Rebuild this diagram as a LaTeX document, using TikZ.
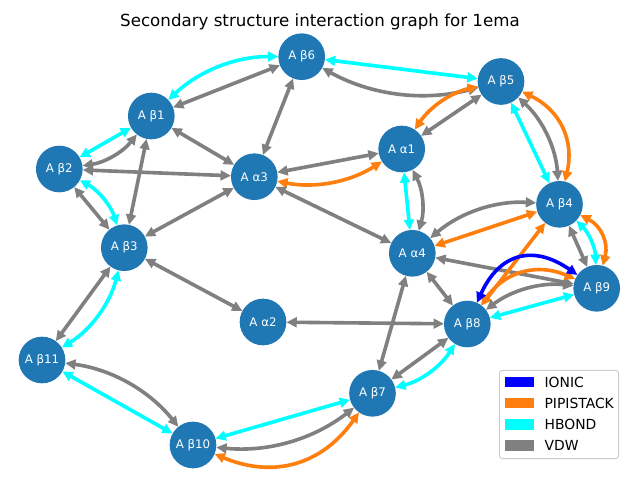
\documentclass[tikz,border=0pt]{standalone}
\usepackage{fontspec}
\setmainfont{DejaVu Sans}
\usetikzlibrary{arrows.meta}
\definecolor{nodeblue}{HTML}{1F77B4}
\definecolor{cPI}{HTML}{FF7F0E}
\definecolor{cHB}{HTML}{00FFFF}
\definecolor{cVDW}{HTML}{808080}
\definecolor{cION}{HTML}{0000FF}
\definecolor{frame}{HTML}{CCCCCC}
\tikzset{
  res/.style={circle, fill=nodeblue, draw=none, minimum size=33.6pt, inner sep=0pt, outer sep=0pt,
    text=white, font=\fontsize{8.5}{10}\selectfont},
  lnk/.style={line width=2.6pt, {Triangle[length=7.5pt,width=7pt]}-{Triangle[length=7.5pt,width=7pt]}},
  vdw/.style={lnk, draw=cVDW},
  hb/.style={lnk, draw=cHB},
  pis/.style={lnk, draw=cPI},
  ion/.style={lnk, draw=cION},
  rA/.style={bend left=21.8, looseness=0.92},
  rB/.style={bend left=38.7, looseness=1.09},
  rC/.style={bend left=50.2, looseness=1.33},
  rAr/.style={bend right=21.8, looseness=0.92},
  rBr/.style={bend right=38.7, looseness=1.09},
  legpatch/.style={minimum width=20.9pt, minimum height=7.6pt, inner sep=0pt, draw=none},
  legtext/.style={anchor=west, inner sep=0pt, font=\fontsize{10}{12}\selectfont},
}
\begin{document}
\begin{tikzpicture}[x=0.72pt, y=-0.72pt]
\useasboundingbox (0,0) rectangle (640,480);
\node[font=\fontsize{12}{14}\selectfont] (title) at (320,22) {Secondary structure interaction graph for 1ema};

\node[res] (b6) at (301.7,56.7) {A β6};
\node[res] (b5) at (501,81.5) {A β5};
\node[res] (b1) at (151.3,116) {A β1};
\node[res] (a1) at (401.7,149) {A α1};
\node[res] (b2) at (59.3,169) {A β2};
\node[res] (a3) at (254.3,176.7) {A α3};
\node[res] (b4) at (559.5,204.3) {A β4};
\node[res] (b3) at (124.3,247.7) {A β3};
\node[res] (a4) at (412.3,253.3) {A α4};
\node[res] (b9) at (596.7,288.3) {A β9};
\node[res] (a2) at (263,322) {A α2};
\node[res] (b8) at (467.3,324) {A β8};
\node[res] (b11) at (42,360) {A β11};
\node[res] (b7) at (372.5,393.3) {A β7};
\node[res] (b10) at (193,445) {A β10};

% beta1 - beta6
\draw[hb, rA] (b1) to (b6);
\draw[vdw] (b1) -- (b6);
% beta6 - beta5
\draw[hb] (b6) -- (b5);
\draw[vdw, rAr] (b6) to (b5);
\draw[vdw] (b6) -- (a3);
% beta5 - alpha1
\draw[pis, rAr] (b5) to (a1);
\draw[vdw] (b5) -- (a1);
% beta5 - beta4
\draw[hb] (b5) -- (b4);
\draw[vdw, rA] (b5) to (b4);
\draw[pis, rB] (b5) to (b4);
% beta1 - beta2
\draw[hb] (b1) -- (b2);
\draw[vdw, rA] (b1) to (b2);
\draw[vdw] (b1) -- (a3);
\draw[vdw] (b1) -- (b3);
\draw[vdw] (b2) -- (a3);
% beta2 - beta3
\draw[vdw] (b2) -- (b3);
\draw[hb, rA] (b2) to (b3);
\draw[vdw] (b3) -- (a3);
% alpha3 - alpha1
\draw[vdw] (a3) -- (a1);
\draw[pis, rAr] (a3) to (a1);
\draw[vdw] (a3) -- (a4);
% alpha1 - alpha4
\draw[hb] (a1) -- (a4);
\draw[vdw, rA] (a1) to (a4);
% alpha4 - beta4
\draw[pis] (a4) -- (b4);
\draw[vdw, rA] (a4) to (b4);
\draw[vdw] (a4) -- (b9);
\draw[vdw] (a4) -- (b8);
\draw[vdw] (a4) -- (b7);
% beta4 - beta9
\draw[vdw] (b4) -- (b9);
\draw[hb, rA] (b4) to (b9);
\draw[pis, rB] (b4) to (b9);
\draw[pis] (b4) -- (b8);
% beta8 - beta9
\draw[hb] (b8) -- (b9);
\draw[vdw, rA] (b8) to (b9);
\draw[pis, rB] (b8) to (b9);
\draw[ion, rC] (b8) to (b9);
\draw[vdw] (b3) -- (a2);
% beta3 - beta11
\draw[vdw] (b3) -- (b11);
\draw[hb, rA] (b3) to (b11);
\draw[vdw] (a2) -- (b8);
% beta8 - beta7
\draw[vdw] (b8) -- (b7);
\draw[hb, rA] (b8) to (b7);
% beta11 - beta10
\draw[hb] (b11) -- (b10);
\draw[vdw, rA] (b11) to (b10);
% beta10 - beta7
\draw[hb] (b10) -- (b7);
\draw[vdw, rAr] (b10) to (b7);
\draw[pis, rBr] (b10) to (b7);

% legend
\node[draw=frame, fill=white, fill opacity=0.8, draw opacity=1, line width=0.7pt, rounded corners=2pt,
  minimum width=85.7pt, minimum height=63.4pt, inner sep=0pt] (legend) at (559,414.5) {};
\node[legpatch, fill=cION] (p1) at (519.5,382) {};
\node[legpatch, fill=cPI] (p2) at (519.5,403.2) {};
\node[legpatch, fill=cHB] (p3) at (519.5,424.3) {};
\node[legpatch, fill=cVDW] (p4) at (519.5,445.4) {};
\node[legtext] (t1) at (544.3,382) {IONIC};
\node[legtext] (t2) at (544.3,403.2) {PIPISTACK};
\node[legtext] (t3) at (544.3,424.3) {HBOND};
\node[legtext] (t4) at (544.3,445.4) {VDW};
\end{tikzpicture}
\end{document}
